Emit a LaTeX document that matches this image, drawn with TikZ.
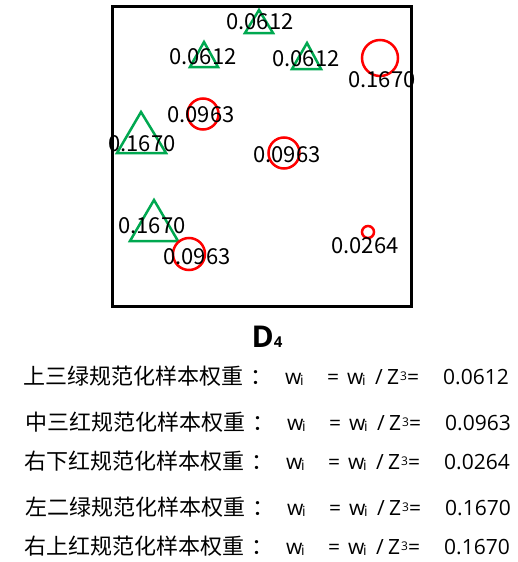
\documentclass[tikz,border=0pt]{standalone}
\usepackage{fontspec}
\setmainfont{Noto Sans CJK SC}
\newfontfamily\lat{Open Sans}
\newcommand{\sbx}[1]{\raisebox{-0.1ex}{\fontsize{14}{14}\selectfont #1}}
\newcommand{\mb}[2]{\makebox[#1pt][l]{#2}}
\newcommand{\eqtext}[2]{\mb{262}{#1\hspace{7pt}：}{\lat\fontsize{21}{21}\selectfont\mb{15}{w}\mb{27}{\sbx{i}}\mb{20}{=}\mb{15}{w}\mb{13}{\sbx{i}}\mb{12}{/}\mb{13}{Z}\mb{7}{\raisebox{0.3ex}{\fontsize{12}{12}\selectfont 3}}\mb{36}{=}#2}}
\definecolor{mygreen}{RGB}{0,168,80}
\definecolor{myred}{RGB}{255,0,0}
\tikzset{
  tri/.style={draw=mygreen, line width=2.5pt, line join=miter},
  circ/.style={draw=myred, line width=2.5pt},
  lbl/.style={inner sep=0pt, font=\fontsize{22}{22}\selectfont},
  eqline/.style={anchor=west, inner sep=0pt, font=\fontsize{22}{22}\selectfont},
}
\begin{document}
\begin{tikzpicture}[x=1pt,y=-1pt]
\useasboundingbox (0,0) rectangle (518,562);
\fill[white] (0,0) rectangle (518,562);
\draw[line width=3pt] (112,6) rectangle (411,306);
% triangles
\draw[tri] (259,10) -- (273,33) -- (245,33) -- cycle;
\draw[tri] (204,42) -- (218,67) -- (190,67) -- cycle;
\draw[tri] (307,43) -- (321,69) -- (292,69) -- cycle;
\draw[tri] (141,112) -- (166,153) -- (117,153) -- cycle;
\draw[tri] (154,200) -- (178,241) -- (130,241) -- cycle;
% circles
\draw[circ] (380,58) circle (18);
\draw[circ] (203,114) circle (15.5);
\draw[circ] (284,153) circle (15.5);
\draw[circ] (189,254) circle (16);
\draw[circ] (368,232) circle (6);
% labels
\node[lbl] (l1) at (260,22) {0.0612};
\node[lbl] (l2) at (203,57) {0.0612};
\node[lbl] (l3) at (306,59) {0.0612};
\node[lbl] (l4) at (382,80) {0.1670};
\node[lbl] (l5) at (201,115) {0.0963};
\node[lbl] (l6) at (142,144) {0.1670};
\node[lbl] (l7) at (287,155) {0.0963};
\node[lbl] (l8) at (152,226) {0.1670};
\node[lbl] (l9) at (197,257) {0.0963};
\node[lbl] (l10) at (365,246) {0.0264};
% title
\node[inner sep=0pt, anchor=base, font=\lat\bfseries\fontsize{30}{30}\selectfont] (title) at (267,347) {D\fontsize{15}{15}\selectfont 4};
% equations
\node[eqline] (e1) at (23,376) {\eqtext{上三绿规范化样本权重}{0.0612}};
\node[eqline] (e2) at (25,422) {\eqtext{中三红规范化样本权重}{0.0963}};
\node[eqline] (e3) at (24,461) {\eqtext{右下红规范化样本权重}{0.0264}};
\node[eqline] (e4) at (25,507) {\eqtext{左二绿规范化样本权重}{0.1670}};
\node[eqline] (e5) at (24,546) {\eqtext{右上红规范化样本权重}{0.1670}};
\end{tikzpicture}
\end{document}
